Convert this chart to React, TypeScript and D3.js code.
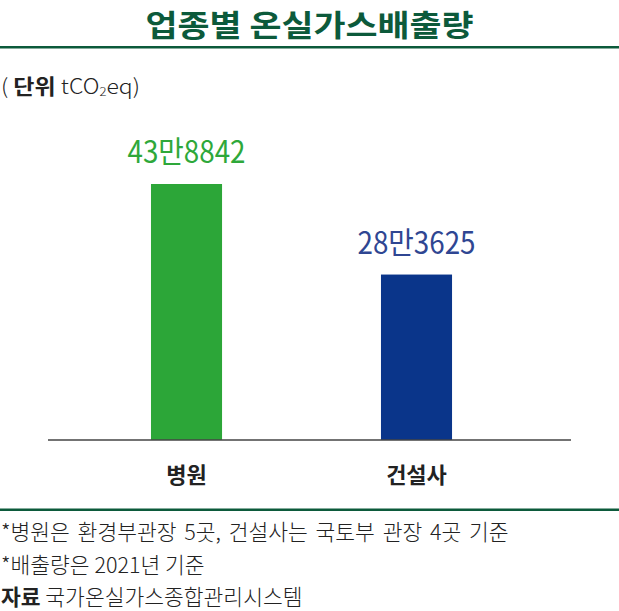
import React from "react";
import * as d3 from "d3";

const categories = ["병원", "건설사"];
const values = [438842, 283625];
const valueLabels = ["43만8842", "28만3625"];
const barColors = ["#2ca638", "#0a358a"];
const labelColors = ["#2ea83a", "#2f4692"];
const title = "업종별 온실가스배출량";
const footnotes = [
  "*병원은 환경부관장 5곳, 건설사는 국토부 관장 4곳 기준",
  "*배출량은 2021년 기준",
];
const sourceLabel = "자료";
const sourceText = "국가온실가스종합관리시스템";

const W = 619;
const H = 611;
const KR = "'Noto Sans CJK KR', 'Noto Sans', sans-serif";
const DARK_GREEN = "#0c5a3b";

export default function App() {
  const x = d3
    .scaleBand<string>()
    .domain(categories)
    .range([48, 571])
    .paddingInner(0.691)
    .paddingOuter(0.4825)
    .align(0.464);
  const y = d3.scaleLinear().domain([0, d3.max(values) as number]).range([440, 184]);
  const bw = x.bandwidth();

  return (
    <svg
      width={W}
      height={H}
      style={{ position: "absolute", left: 0, top: 0, background: "#fff" }}
      fontFamily={KR}
    >
      <text
        x={W / 2}
        y={35.5}
        textAnchor="middle"
        fontSize={30}
        fontWeight={700}
        fill={DARK_GREEN}
        textLength={328}
        lengthAdjust="spacingAndGlyphs"
      >
        {title}
      </text>
      <rect x={0} y={46} width={W} height={2.5} fill={DARK_GREEN} />

      <text x={1} y={94} fontSize={21} fill="#222" textLength={139} lengthAdjust="spacingAndGlyphs">
        <tspan fontWeight={300}>( </tspan>
        <tspan fontWeight={700}>단위 </tspan>
        <tspan fontWeight={300}>tCO</tspan>
        <tspan fontWeight={300} fontSize={12} dy={2}>2</tspan>
        <tspan fontWeight={300} dy={-2}>eq)</tspan>
      </text>

      {categories.map((c, i) => {
        const bx = x(c) as number;
        return (
          <g key={c}>
            <rect x={bx} y={y(values[i])} width={bw} height={440 - y(values[i])} fill={barColors[i]} />
            <text
              x={bx + bw / 2}
              y={y(values[i]) - 21}
              textAnchor="middle"
              fontSize={31}
              fill={labelColors[i]}
              textLength={118}
              lengthAdjust="spacingAndGlyphs"
            >
              {valueLabels[i]}
            </text>
            <text x={bx + bw / 2} y={483} textAnchor="middle" fontSize={22} fontWeight={700} fill="#222">
              {c}
            </text>
          </g>
        );
      })}

      <line x1={48} x2={571} y1={440} y2={440} stroke="#444" strokeWidth={1.5} />

      <rect x={0} y={508.5} width={W} height={2.5} fill={DARK_GREEN} />

      {footnotes.map((f, i) => (
        <text
          key={i}
          x={1}
          y={540 + i * 33}
          fontSize={21.5}
          fontWeight={300}
          fill="#222"
          wordSpacing={i === 0 ? 3 : 0}
        >
          {f}
        </text>
      ))}
      <text x={1} y={605} fontSize={21.5} fill="#222">
        <tspan fontWeight={700}>{sourceLabel}</tspan>
        <tspan fontWeight={300}> {sourceText}</tspan>
      </text>
    </svg>
  );
}
